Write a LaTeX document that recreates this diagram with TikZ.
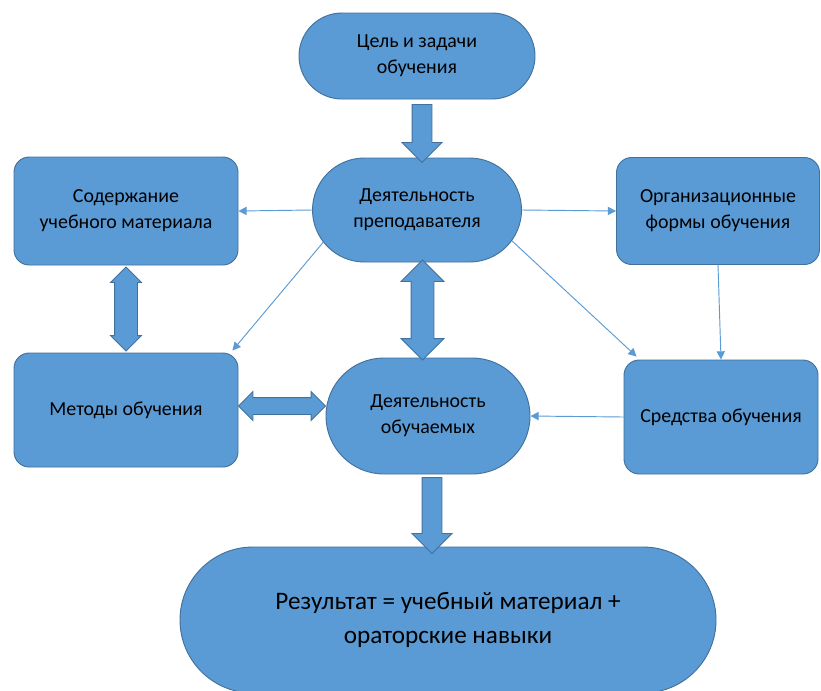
\documentclass[tikz,border=0pt]{standalone}
\usepackage{fontspec}
\setmainfont{Carlito}
\usepackage{tikz}
\usetikzlibrary{shapes.misc, shapes.arrows, arrows.meta, calc}
\newdimen\pxu
\pxu=0.03cm
\definecolor{boxfill}{HTML}{5B9BD5}
\definecolor{boxline}{HTML}{41719C}
\tikzset{
  pill/.style={rounded rectangle, draw=boxline, fill=boxfill, line width=0.8pt,
               align=center, inner sep=0pt, font=\fontsize{17}{22}\selectfont},
  box/.style={rectangle, draw=boxline, fill=boxfill, rounded corners=13pt,
              line width=0.8pt, align=center, inner sep=0pt,
              font=\fontsize{17}{22}\selectfont},
  thinarr/.style={-{Triangle[length=7pt, width=7pt]}, draw=boxfill, line width=0.8pt},
}

\begin{document}
\begin{tikzpicture}[x=0.03cm, y=-0.03cm,
  sarrow/.style={single arrow, draw=boxline, fill=boxfill, line width=0.8pt,
                 inner sep=9.5\pxu, single arrow head extend=10\pxu,
                 shape border rotate=270},
  darrow/.style={double arrow, draw=boxline, fill=boxfill, line width=0.8pt},
]
  \clip (0,0) rectangle (821,690);
  \fill[white] (0,0) rectangle (821,690);

  % top row
  \node[pill, minimum width=236\pxu, minimum height=86\pxu] (goal) at (417,56)
    {Цель и задачи\\обучения};
  \node[pill, minimum width=209\pxu, minimum height=104\pxu] (teacher) at (417,210)
    {Деятельность\\преподавателя};
  \node[box, minimum width=224\pxu, minimum height=108\pxu] (content) at (126,211)
    {Содержание\\учебного материала};
  \node[box, minimum width=203\pxu, minimum height=107\pxu] (org) at (718,211)
    {Организационные\\формы обучения};

  % middle row
  \node[box, minimum width=224\pxu, minimum height=114\pxu] (methods) at (126,410)
    {Методы обучения};
  \node[pill, minimum width=204\pxu, minimum height=116\pxu] (learners) at (428,416)
    {Деятельность\\обучаемых};
  \node[box, minimum width=194\pxu, minimum height=114\pxu] (means) at (721,417)
    {Средства обучения};

  \node[pill, minimum width=536\pxu, minimum height=146\pxu,
        font=\fontsize{21.5}{29}\selectfont] (result) at (448,620)
    {Результат = учебный материал +\\ораторские навыки};

  % block arrows
  \node[sarrow, minimum height=58\pxu] (a1)
    at ($(goal.south)!0.5!(teacher.north)+(5,0)$) {};
  \node[sarrow, minimum height=76\pxu] (a2)
    at ($(learners.south)!0.5!(result.north)+(-6,0)$) {};
  \node[darrow, shape border rotate=90, inner sep=11\pxu,
        double arrow head extend=10\pxu, minimum height=100\pxu] (a3)
    at ($(teacher.south)!0.5!(learners.north)$) {};
  \node[darrow, shape border rotate=90, inner sep=11\pxu,
        double arrow head extend=4\pxu, minimum height=84\pxu] (a4)
    at ($(content.south)!0.5!(methods.north)$) {};
  \node[darrow, inner sep=8\pxu, double arrow head extend=6\pxu,
        minimum height=87\pxu] (a5)
    at ($(methods.east)!0.5!(learners.west)+(0,-7)$) {};

  % thin arrows
  \draw[thinarr] (teacher.west) -- (content.east);
  \draw[thinarr] (teacher.east) -- (org.west);
  \draw[thinarr] (teacher.199) -- ($(methods.north east)+(-6,-2)$);
  \draw[thinarr] (teacher.342) -- ($(means.north west)+(13,-3)$);
  \draw[thinarr] (org.south) -- (means.north);
  \draw[thinarr] (means.west) -- (learners.east);
\end{tikzpicture}
\end{document}
